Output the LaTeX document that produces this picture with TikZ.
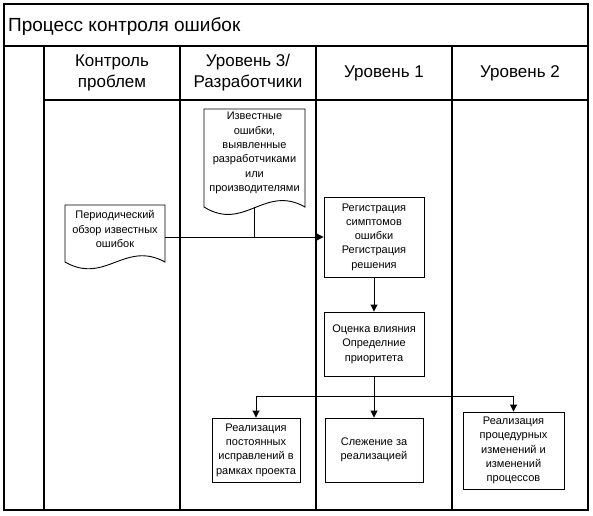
\documentclass[tikz,border=0pt]{standalone}
\usepackage{fontspec}
\setmainfont{Liberation Sans}
\usetikzlibrary{arrows.meta}
\tikzset{
  lane/.style={line width=1.2pt},
  titlesep/.style={line width=2pt},
  procbox/.style={draw, line width=0.9pt, align=center, inner sep=0pt, font=\fontsize{11}{14.3}\selectfont},
  doctext/.style={align=center, inner sep=0pt, font=\fontsize{11}{14.3}\selectfont},
  docshape/.style={draw, line width=0.9pt},
  hdr/.style={align=center, inner sep=0pt, font=\fontsize{17}{21}\selectfont},
  arr/.style={line width=0.9pt, -{Triangle[length=7pt,width=7pt]}},
  conn/.style={line width=0.9pt}
}
\begin{document}
\begin{tikzpicture}[x=1pt,y=-1pt]
\useasboundingbox (0,0) rectangle (593,515);
% frame and lanes
\draw[lane] (4,4) rectangle (588,510);
\draw[titlesep] (4,46) -- (588,46);
\draw[lane] (44,100) -- (588,100);
\foreach \x in {44,180,316,452} \draw[lane] (\x,46) -- (\x,510);
% title and headers
\node[anchor=base west, inner sep=0pt, font=\fontsize{19}{22}\selectfont] (title) at (8,31.5) {Процесс контроля ошибок};
\node[hdr] (h0) at (112,73) {Контроль\\проблем};
\node[hdr] (h1) at (248,73) {Уровень 3/\\Разработчики};
\node[hdr] (h2) at (384,73) {Уровень 1};
\node[hdr] (h3) at (520,73) {Уровень 2};
% documents
\draw[docshape] (65,205) -- (165,205) -- (165,262) .. controls (125,240) and (105,285) .. (65,262) -- cycle;
\node[doctext, minimum width=100pt] (d1) at (115,229) {Периодический\\обзор известных\\ошибок};
\draw[docshape] (204,109) -- (305,109) -- (305,207) .. controls (264.6,184) and (244.4,232) .. (204,207) -- cycle;
\node[doctext, minimum width=101pt] (d2) at (254.5,153) {Известные\\ошибки,\\выявленные\\разработчиками\\или\\производителями};
\coordinate (d2b) at (254,207);
% process boxes
\node[procbox, minimum width=100pt, minimum height=80pt] (reg) at (374,237) {Регистрация\\симптомов\\ошибки\\Регистрация\\решения};
\node[procbox, minimum width=100pt, minimum height=64pt] (ocen) at (374,344) {Оценка влияния\\Определние\\приоритета};
\node[procbox, minimum width=88pt, minimum height=64pt] (real1) at (256,450) {Реализация\\постоянных\\исправлений в\\рамках проекта};
\node[procbox, minimum width=98pt, minimum height=64pt] (slez) at (374,450) {Слежение за\\реализацией};
\node[procbox, minimum width=101pt, minimum height=77pt] (real2) at (513.5,450.5) {Реализация\\процедурных\\изменений и\\изменений\\процессов};
% connectors
\draw[arr] (d1.east |- reg.west) -- (reg.west);
\draw[conn] (d2b) -- (d2b |- reg.west);
\draw[arr] (reg.south) -- (ocen.north);
\coordinate (split) at (374,396);
\draw[conn] (ocen.south) -- (split);
\draw[arr] (split) -- (slez.north);
\draw[arr] (split) -| (real1.north);
\draw[arr] (split) -| (real2.north);
\end{tikzpicture}
\end{document}
